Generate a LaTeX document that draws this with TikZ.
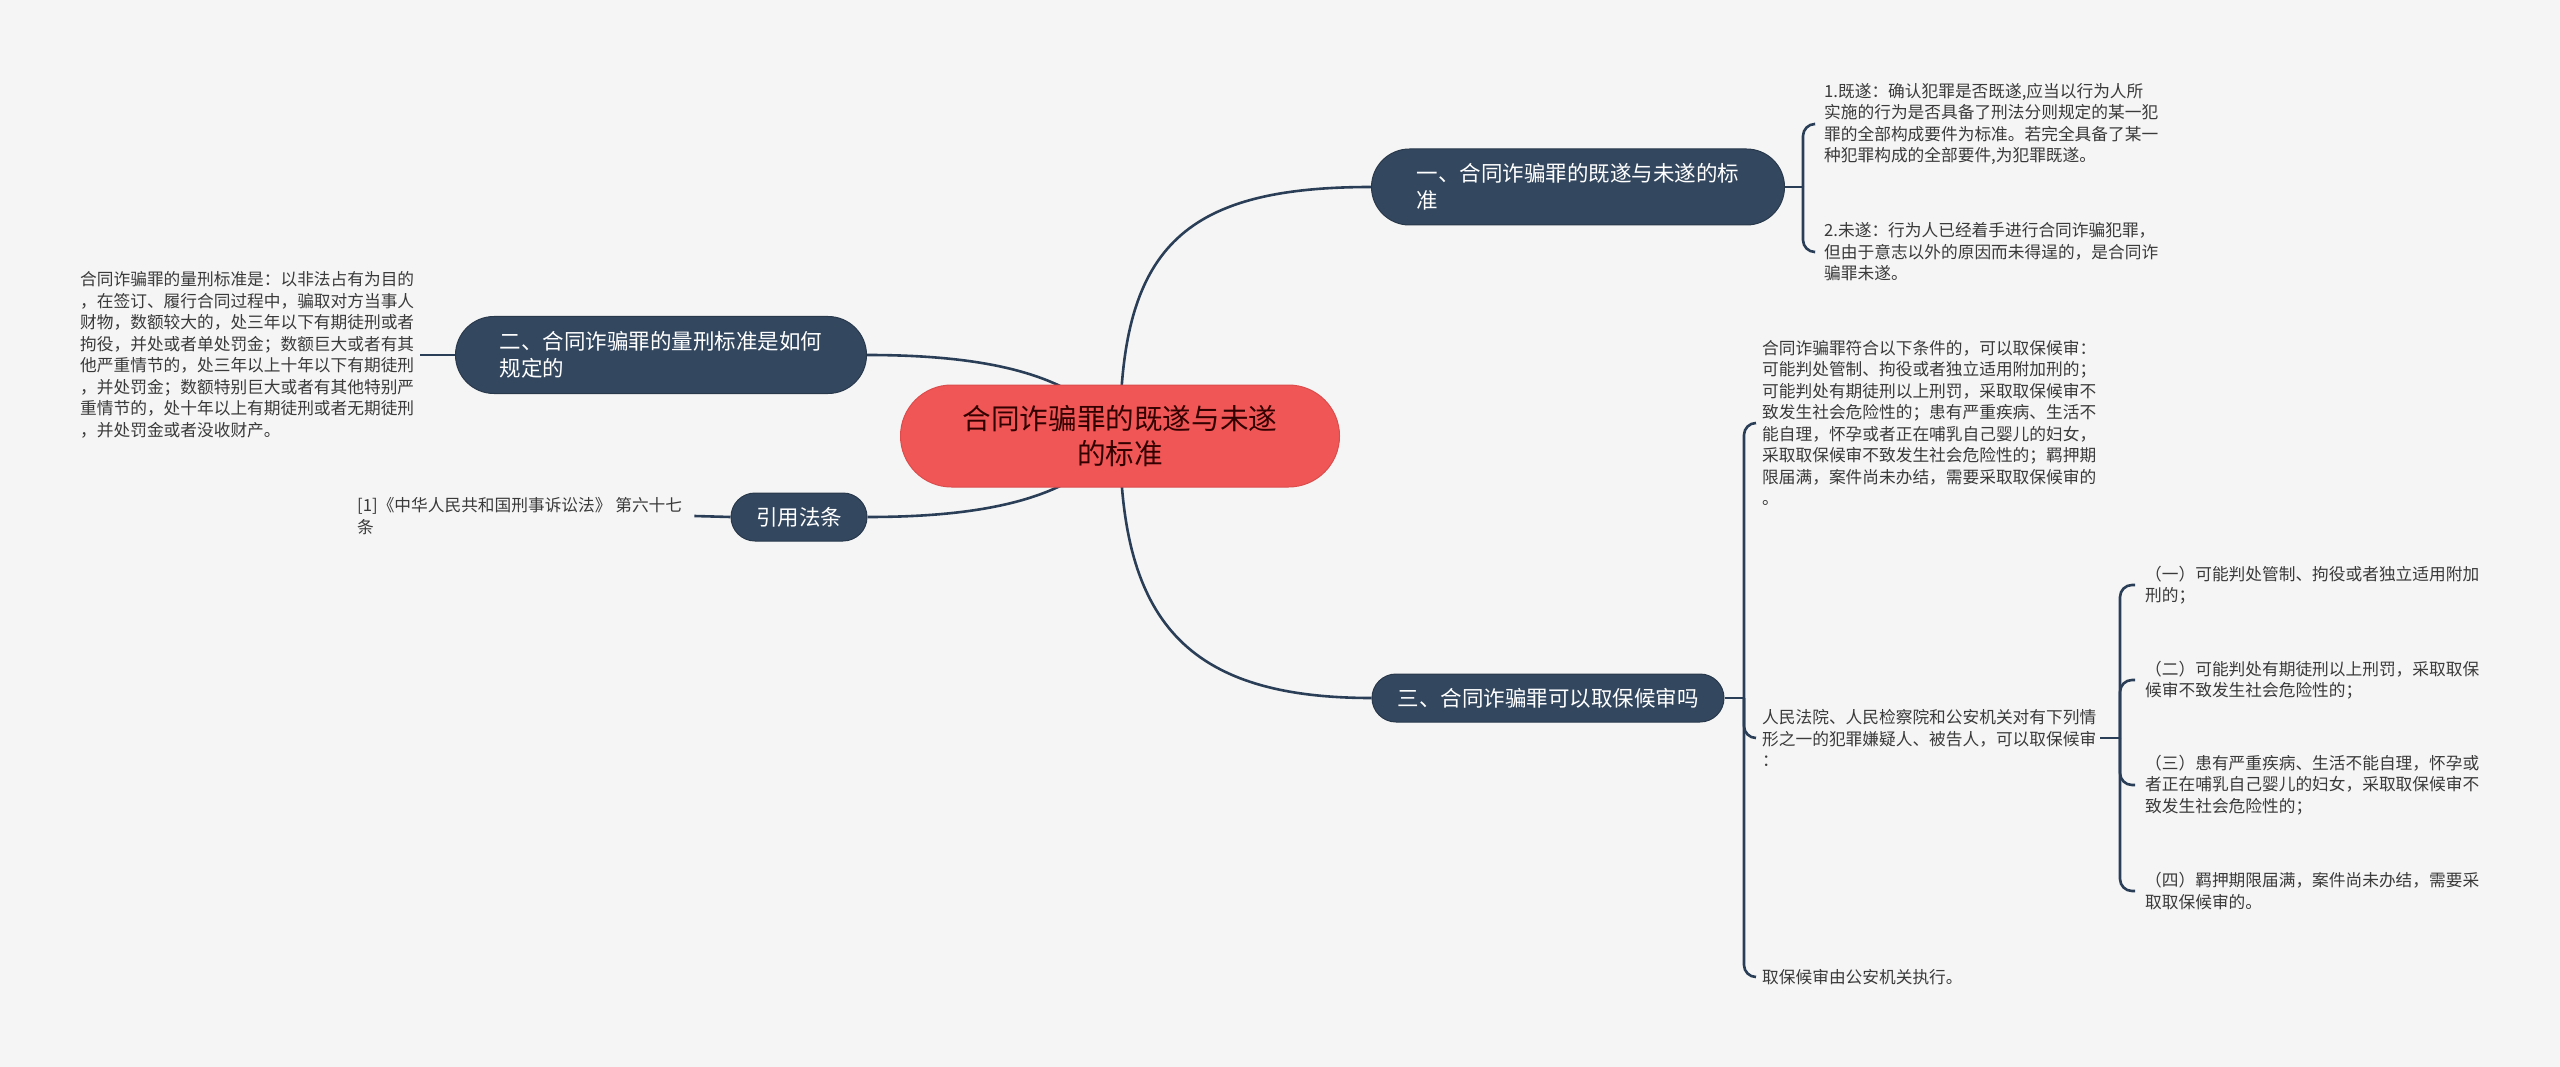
\documentclass[tikz,border=0pt]{standalone}
\usepackage{fontspec}
\setmainfont{Noto Sans CJK SC}
\usetikzlibrary{shapes.misc,backgrounds}
\definecolor{paper}{HTML}{F5F5F5}
\definecolor{navy}{HTML}{33475F}
\definecolor{wire}{HTML}{2A3F57}
\definecolor{rootred}{HTML}{F05656}
\definecolor{rootedge}{HTML}{DC4C4C}
\definecolor{ink}{HTML}{3A3A3A}
\begin{document}
\begin{tikzpicture}[x=1pt,y=-1pt,
    root/.style={rounded rectangle,fill=rootred,draw=rootedge,line width=1pt,
      text=black!80!red,align=center,inner sep=0pt,
      font=\fontsize{28.6}{35}\selectfont},
    topic/.style={rounded rectangle,fill=navy,draw=navy!80!black,line width=1pt,
      text=white,align=left,inner sep=0pt,font=\fontsize{21.5}{27}\selectfont},
    leaf/.style={anchor=west,inner sep=0pt,align=left,text=ink,
      font=\fontsize{16.7}{21.5}\selectfont},
    link/.style={draw=wire,line width=2.6pt},
    brace/.style={draw=wire,line width=2.6pt,rounded corners=12pt}]
  \useasboundingbox (0,0) rectangle (2560,1067);
  \node[root,minimum width=439pt,minimum height=102pt] (r) at (1120,436)
    {合同诈骗罪的既遂与未遂\\的标准};
  \node[topic,minimum width=413pt,minimum height=76pt] (a) at (1578,187)
    {一、合同诈骗罪的既遂与未遂的标\\准};
  \node[topic,minimum width=411pt,minimum height=77pt] (b) at (661,355)
    {二、合同诈骗罪的量刑标准是如何\\规定的};
  \node[topic,minimum width=352pt,minimum height=48pt] (c) at (1548,698)
    {三、合同诈骗罪可以取保候审吗};
  \node[topic,minimum width=136pt,minimum height=48pt] (d) at (799,517)
    {引用法条};
  \node[leaf] (a1) at (1824,124)
    {1.既遂：确认犯罪是否既遂,应当以行为人所\\实施的行为是否具备了刑法分则规定的某一犯\\罪的全部构成要件为标准。若完全具备了某一\\种犯罪构成的全部要件,为犯罪既遂。};
  \node[leaf] (a2) at (1824,252)
    {2.未遂：行为人已经着手进行合同诈骗犯罪，\\但由于意志以外的原因而未得逞的，是合同诈\\骗罪未遂。};
  \node[leaf] (b1) at (80,355)
    {合同诈骗罪的量刑标准是：以非法占有为目的\\，在签订、履行合同过程中，骗取对方当事人\\财物，数额较大的，处三年以下有期徒刑或者\\拘役，并处或者单处罚金；数额巨大或者有其\\他严重情节的，处三年以上十年以下有期徒刑\\，并处罚金；数额特别巨大或者有其他特别严\\重情节的，处十年以上有期徒刑或者无期徒刑\\，并处罚金或者没收财产。};
  \node[leaf] (d1) at (357,516)
    {[1]《中华人民共和国刑事诉讼法》 第六十七\\条};
  \node[leaf] (c1) at (1762,423)
    {合同诈骗罪符合以下条件的，可以取保候审：\\可能判处管制、拘役或者独立适用附加刑的；\\可能判处有期徒刑以上刑罚，采取取保候审不\\致发生社会危险性的；患有严重疾病、生活不\\能自理，怀孕或者正在哺乳自己婴儿的妇女，\\采取取保候审不致发生社会危险性的；羁押期\\限届满，案件尚未办结，需要采取取保候审的\\。};
  \node[leaf] (c2) at (1762,738)
    {人民法院、人民检察院和公安机关对有下列情\\形之一的犯罪嫌疑人、被告人，可以取保候审\\：};
  \node[leaf] (c3) at (1762,977)
    {取保候审由公安机关执行。};
  \node[leaf] (c21) at (2145,585)
    {（一）可能判处管制、拘役或者独立适用附加\\刑的；};
  \node[leaf] (c22) at (2145,680)
    {（二）可能判处有期徒刑以上刑罚，采取取保\\候审不致发生社会危险性的；};
  \node[leaf] (c23) at (2145,785)
    {（三）患有严重疾病、生活不能自理，怀孕或\\者正在哺乳自己婴儿的妇女，采取取保候审不\\致发生社会危险性的；};
  \node[leaf] (c24) at (2145,891)
    {（四）羁押期限届满，案件尚未办结，需要采\\取取保候审的。};
  \coordinate (sa) at (1803,187);
  \coordinate (sc) at (1744,698);
  \coordinate (sc2) at (2120,738);
  \begin{scope}[on background layer]
    \fill[paper] (0,0) rectangle (2560,1067);
    \begin{scope}[link]
      \draw (r.center) .. controls (1120,250) and (1180,187) .. (a.west);
      \draw (r.center) .. controls (1120,620) and (1185,698) .. (c.west);
      \draw (r.center) .. controls (1080,375) and (990,355) .. (b.east);
      \draw (r.center) .. controls (1080,497) and (990,517) .. (d.east);
      \draw (b.west) -- ([xshift=6pt]b1.east);
      \draw (d.west) -- ([xshift=12pt]d1.east);
      \draw (a.east) -- (sa);
      \draw (c.east) -- (sc);
      \draw ([xshift=4pt]c2.east) -- (sc2);
    \end{scope}
    \begin{scope}[brace]
      \draw (sa) |- ([xshift=-10pt]a1.west);
      \draw (sa) |- ([xshift=-10pt]a2.west);
      \draw (sc) |- ([xshift=-6pt]c1.west);
      \draw (sc) |- ([xshift=-6pt]c2.west);
      \draw (sc) |- ([xshift=-6pt]c3.west);
      \draw (sc2) |- ([xshift=-10pt]c21.west);
      \draw (sc2) |- ([xshift=-10pt]c22.west);
      \draw (sc2) |- ([xshift=-10pt]c23.west);
      \draw (sc2) |- ([xshift=-10pt]c24.west);
    \end{scope}
  \end{scope}
\end{tikzpicture}
\end{document}
